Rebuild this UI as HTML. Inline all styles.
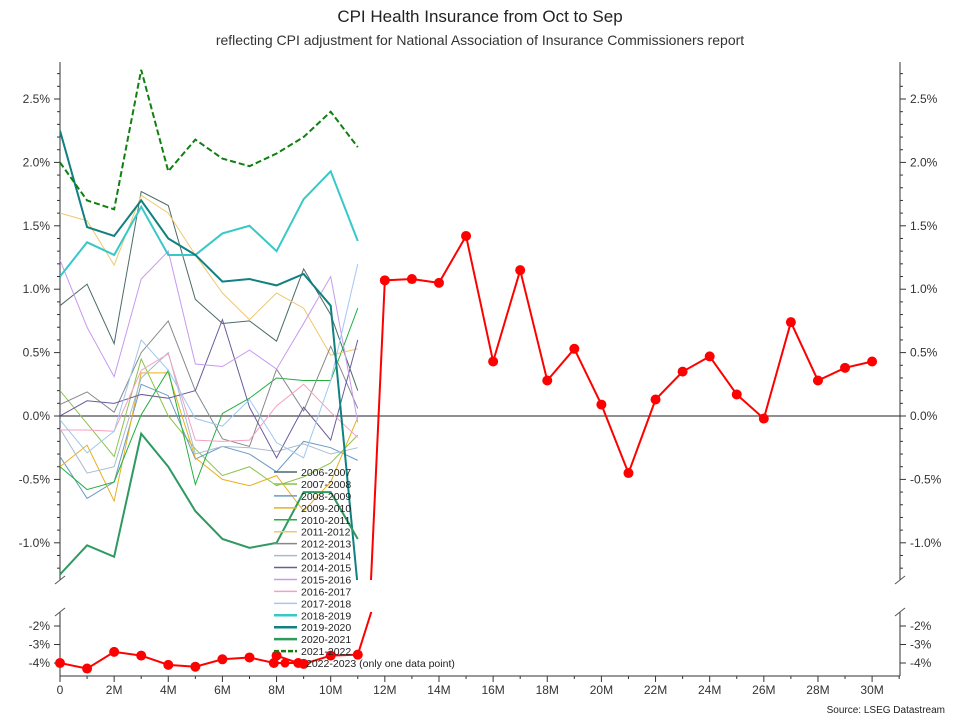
<!DOCTYPE html>
<html><head><meta charset="utf-8"><style>
html,body{margin:0;padding:0;background:#fff;font-family:"Liberation Sans",sans-serif;overflow:hidden;width:960px;height:720px}
svg{display:block}
svg text{font-family:"Liberation Sans",sans-serif}
</style></head><body>
<svg id="c" width="960" height="720" xmlns="http://www.w3.org/2000/svg">
<text x="480" y="22" text-anchor="middle" font-size="17" fill="#222">CPI Health Insurance from Oct to Sep</text>
<text x="480" y="45" text-anchor="middle" font-size="14" fill="#333">reflecting CPI adjustment for National Association of Insurance Commissioners report</text>
<text x="945" y="713" text-anchor="end" font-size="10" fill="#222">Source: LSEG Datastream</text>
</svg>
<script>
const seasons=["2006-2007","2007-2008","2008-2009","2009-2010","2010-2011","2011-2012","2012-2013","2013-2014","2014-2015","2015-2016","2016-2017","2017-2018","2018-2019","2019-2020","2020-2021","2021-2022"];
const colors=["#4a6b68","#8bc34a","#6a9ac4","#e6b020","#22b040","#f0c870","#888888","#a8bcd0","#6a5a9a","#c89af0","#f4a0c0","#a0c8f0","#38c8c8","#108080","#2e9a60","#108010"];
const widths=[1,1,1,1,1,1,1,1,1,1,1,1,2,2,2,2];
const s0607=[0.87,1.04,0.57,1.77,1.66,0.92,0.73,0.75,0.59,1.16,0.80,0.20];
const s0708=[0.20,-0.06,-0.32,0.45,0.00,-0.26,-0.47,-0.40,-0.55,-0.48,-0.37,-0.15];
const s0809=[-0.32,-0.65,-0.52,0.25,0.16,-0.34,-0.24,-0.30,-0.44,-0.20,-0.25,-0.35];
const s0910=[-0.40,-0.23,-0.67,0.34,0.34,-0.33,-0.50,-0.55,-0.47,-0.75,-0.52,-0.01];
const s1011=[-0.40,-0.58,-0.52,0.01,0.36,-0.54,0.02,0.14,0.30,0.28,0.28,0.85];
const s1112=[1.60,1.54,1.19,1.74,1.60,1.27,0.97,0.76,0.97,0.85,0.48,0.53];
const s1213=[0.09,0.19,0.03,0.50,0.75,0.20,-0.18,-0.24,0.37,0.04,0.55,0.06];
const s1314=[-0.10,-0.45,-0.40,0.30,0.50,-0.30,-0.24,-0.25,-0.28,-0.22,-0.30,-0.25];
const s1415=[0.00,0.12,0.10,0.17,0.14,0.20,0.76,0.07,-0.33,0.07,-0.19,0.60];
const s1516=[1.23,0.70,0.31,1.08,1.30,0.41,0.39,0.52,0.37,0.73,1.10,-0.05];
const s1617=[-0.11,-0.11,-0.12,0.36,0.49,-0.19,-0.20,-0.19,0.08,0.25,0.03,-0.17];
const s1718=[-0.03,-0.29,-0.12,0.60,0.36,-0.02,-0.08,0.13,-0.21,-0.33,0.28,1.20];
const s1819=[1.10,1.37,1.27,1.65,1.27,1.27,1.44,1.50,1.30,1.71,1.93,1.38];
const s1920=[2.25,1.49,1.42,1.70,1.40,1.27,1.06,1.08,1.03,1.12,0.87,-1.35];
const s2021=[-1.25,-1.02,-1.11,-0.14,-0.40,-0.75,-0.97,-1.04,-1.00,-0.60,-0.60,-0.97];
const s2122=[2.00,1.70,1.63,2.73,1.93,2.18,2.03,1.97,2.07,2.20,2.40,2.12];
const series=[s0607,s0708,s0809,s0910,s1011,s1112,s1213,s1314,s1415,s1516,s1617,s1718,s1819,s1920,s2021,s2122];
const redMonths=[0,1,2,3,4,5,6,7,7.9,8,8.8,9,10,11,12,13,14,15,16,17,18,19,20,21,22,23,24,25,26,27,28,29,30];
const redVals=[-4.0,-4.3,-3.4,-3.6,-4.1,-4.2,-3.8,-3.7,-4.0,-3.6,-4.0,-4.05,-3.6,-3.55,1.07,1.08,1.05,1.42,0.43,1.15,0.28,0.53,0.09,-0.45,0.13,0.35,0.47,0.17,-0.02,0.74,0.28,0.38,0.43];
const upTicks=[2.5,2.0,1.5,1.0,0.5,0.0,-0.5,-1.0];
const lowTicks=[-2,-3,-4];
const xTicks=[0,2,4,6,8,10,12,14,16,18,20,22,24,26,28,30];

const svg=document.getElementById('c'),NS="http://www.w3.org/2000/svg";
const X0=60,X1=900,UT=62,UB=580,LT=612,LB=676;
const x=m=>60+m*27.07;
const yU=v=>416-v*126.8;
const yL=v=>626-(v+2)*18.5;
function el(t,a,p){const e=document.createElementNS(NS,t);for(const k in a)e.setAttribute(k,a[k]);(p||svg).appendChild(e);return e;}
const defs=el('defs',{});
const cu=el('clipPath',{id:'cu'},defs);el('rect',{x:X0,y:UT,width:X1-X0,height:UB-UT},cu);
const cl=el('clipPath',{id:'cl'},defs);el('rect',{x:X0,y:LT,width:X1-X0,height:LB-LT},cl);
const ax=el('g',{});


el('line',{x1:X0,y1:UT,x2:X0,y2:UB,stroke:'#333'},ax);
el('line',{x1:X1,y1:UT,x2:X1,y2:UB,stroke:'#333'},ax);
el('line',{x1:X0,y1:LT,x2:X0,y2:LB,stroke:'#333'},ax);
el('line',{x1:X1,y1:LT,x2:X1,y2:LB,stroke:'#333'},ax);
el('line',{x1:X0,y1:LB,x2:X1,y2:LB,stroke:'#333'},ax);
el('line',{x1:X0,y1:yU(0),x2:X1,y2:yU(0),stroke:'#222'},ax);
[[X0,UB],[X1,UB],[X0,LT],[X1,LT]].forEach(([a,b])=>el('line',{x1:a-5,y1:b+4,x2:a+5,y2:b-4,stroke:'#555'},ax));
for(let v=-1.2;v<=2.75;v+=0.1){const yy=yU(v);if(yy<UT||yy>UB)continue;const big=Math.abs(v*2-Math.round(v*2))<0.01;
 el('line',{x1:X0-(big?6:3),y1:yy,x2:X0,y2:yy,stroke:'#333'},ax);el('line',{x1:X1,y1:yy,x2:X1+(big?6:3),y2:yy,stroke:'#333'},ax);}
upTicks.forEach(v=>{const t=v.toFixed(1)+'%';
 const a=el('text',{x:X0-10,y:yU(v)+4,'text-anchor':'end','font-size':12,fill:'#333'},ax);a.textContent=t;
 
 
 const b=el('text',{x:X1+10,y:yU(v)+4,'font-size':12,fill:'#333'},ax);b.textContent=t;
 
 });
lowTicks.forEach(v=>{const t=v+'%';
 el('line',{x1:X0-6,y1:yL(v),x2:X0,y2:yL(v),stroke:'#333'},ax);el('line',{x1:X1,y1:yL(v),x2:X1+6,y2:yL(v),stroke:'#333'},ax);
 const a=el('text',{x:X0-10,y:yL(v)+4,'text-anchor':'end','font-size':12,fill:'#333'},ax);a.textContent=t;
 
 
 const b=el('text',{x:X1+10,y:yL(v)+4,'font-size':12,fill:'#333'},ax);b.textContent=t;
 
 });
for(let m=0;m<=31;m++){el('line',{x1:x(m),y1:LB,x2:x(m),y2:LB+(m%2==0?6:3),stroke:'#333'},ax);}
xTicks.forEach(m=>{const t=el('text',{x:x(m),y:LB+18,'text-anchor':'middle','font-size':12,fill:'#333'},ax);t.textContent=m==0?'0':m+'M';
 
 });
series.forEach((s,i)=>{const pts=s.map((v,m)=>x(m)+','+yU(v)).join(' ');
 const p=el('polyline',{points:pts,fill:'none',stroke:colors[i],'stroke-width':widths[i],'clip-path':'url(#cu)','stroke-dasharray':i==15?'6,3':'none'});
 
 });
const rg=el('g',{});


el('polyline',{points:redMonths.map((m,i)=>x(m)+','+yU(redVals[i])).join(' '),fill:'none',stroke:'#f00','stroke-width':2,'clip-path':'url(#cu)'},rg);
el('polyline',{points:redMonths.map((m,i)=>x(m)+','+yL(redVals[i])).join(' '),fill:'none',stroke:'#f00','stroke-width':2,'clip-path':'url(#cl)'},rg);
redMonths.forEach((m,i)=>{const v=redVals[i];const yy=v>-1.3?yU(v):yL(v);
 const c=el('circle',{cx:x(m),cy:yy,r:5,fill:'#f00'},rg);
 
 });
const lg=el('g',{});


const names=seasons.concat(["2022-2023 (only one data point)"]);
names.forEach((n,i)=>{const yy=472+i*11.94;const g=el('g',{},lg);
 
 
 if(i<16)el('line',{x1:274,y1:yy,x2:297,y2:yy,stroke:colors[i],'stroke-width':widths[i]+0.5,'stroke-dasharray':i==15?'5,2':'none'},g);
 else{el('line',{x1:274,y1:yy,x2:297,y2:yy,stroke:'#f00','stroke-width':2},g);el('circle',{cx:285,cy:yy,r:4.5,fill:'#f00'},g);}
 const t=el('text',{x:i<16?301:306,y:yy+4,'font-size':10.5,fill:'#222'},g);t.textContent=n;});
</script>
</body></html>
